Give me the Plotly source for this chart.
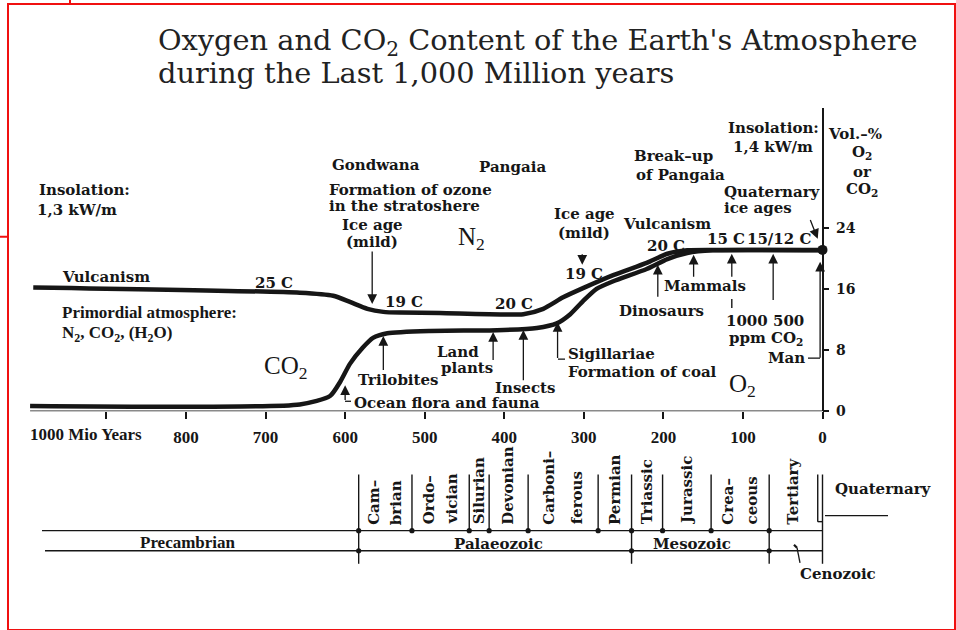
import plotly.graph_objects as go

W, H = 956, 630          # reference picture size (all positions below are in its pixels)
HF = 640                 # figure height: the page is photographed ~640 px tall and scaled to 630
S = HF / H
INK = "#161616"
RED = "#f01010"

# ---------------- data ----------------
# upper curve (Vol.-%), age in million years before present
upper_age = [992, 657, 615, 594, 572, 552, 531, 481, 376, 351, 326, 301, 263, 221, 195, 170, 138, 0]
upper_vol = [16.2, 15.5, 15.1, 14.3, 13.4, 13.0, 12.9, 12.85, 12.7, 13.4, 14.9, 16.1, 17.8, 19.4, 20.6, 21.05, 21.1, 21.1]
# lower curve (Vol.-%)
lower_age = [996, 657, 619, 606, 594, 578, 565, 547, 493, 409, 359, 334, 317, 301, 284, 263, 221, 195, 170, 138, 0]
lower_vol = [0.7, 0.9, 2.0, 3.9, 6.2, 8.3, 9.6, 10.2, 10.5, 10.6, 10.9, 11.5, 12.7, 14.4, 16.0, 17.0, 18.6, 19.9, 20.7, 21.05, 21.05]

xtick_vals = [900, 800, 700, 600, 500, 400, 300, 200, 100, 0]
xtick_text = ["", "800", "700", "600", "500", "400", "300", "200", "100", "0"]
ytick_vals = [0, 8, 16, 24]

# events marked by arrows (age in Ma)
event_names = ["Ice age (mild) I", "Ocean flora and fauna", "Trilobites", "Land plants", "Insects",
               "Sigillariae", "Ice age (mild) II", "Dinosaurs", "Mammals", "1000 ppm CO2",
               "500 ppm CO2", "Man", "Quaternary ice ages"]
event_age = [566, 600, 552, 414, 376, 333, 302, 207, 162, 114, 62, 3, 6]

# geological periods (start, Ma)
period_names = ["Cambrian", "Ordovician", "Silurian", "Devonian", "Carboniferous", "Permian",
                "Triassic", "Jurassic", "Cretaceous", "Tertiary", "Quaternary"]
period_start = [583, 516, 444, 419, 370, 282, 240, 201, 140, 67, 6]
period_cols = [["Cam–", "brian"], ["Ordo–", "vician"], ["Silurian"], ["Devonian"],
               ["Carboni–", "ferous"], ["Permian"], ["Triassic"], ["Jurassic"],
               ["Crea–", "ceous"], ["Tertiary"]]
era_names = ["Precambrian", "Palaeozoic", "Mesozoic", "Cenozoic"]
era_first_period = ["Cambrian", "Triassic", "Tertiary"]

# ---------------- geometry of the page ----------------
X0_PX, PX_PER_MA = 822.5, 0.7956
Y0_PX, PX_PER_PCT, YTOP_PX = 410.0, 7.625, 108.0


def pct(ypx):
    return (Y0_PX - ypx) / PX_PER_PCT


def px_x(x):
    return x / W


def px_y(y):
    return 1 - y / H


SLAB = dict(family="DejaVu Serif", size=15, color=INK, weight="bold")
SERIFB = dict(family="Liberation Serif", size=17, color=INK, weight="bold")
BIG = dict(family="Liberation Serif", size=25, color=INK)
TITLE = dict(family="DejaVu Serif", size=28.8, color="#222222")

fig = go.Figure()
fig.add_trace(go.Scatter(x=upper_age, y=upper_vol, mode="lines",
                         line=dict(color=INK, width=4.5, shape="spline", smoothing=0.6),
                         hoverinfo="skip"))
fig.add_trace(go.Scatter(x=lower_age, y=lower_vol, mode="lines",
                         line=dict(color=INK, width=4.5, shape="spline", smoothing=0.6),
                         hoverinfo="skip"))
fig.add_trace(go.Scatter(x=[upper_age[-1]], y=[upper_vol[-1]], mode="markers",
                         marker=dict(color=INK, size=10), hoverinfo="skip"))

fig.update_layout(
    width=W, height=HF, autosize=False, showlegend=False,
    margin=dict(l=0, r=0, t=0, b=0, pad=0),
    paper_bgcolor="white", plot_bgcolor="white",
    xaxis=dict(domain=[0, 1], range=[X0_PX / PX_PER_MA, (X0_PX - W) / PX_PER_MA],
               anchor="free", position=1 - Y0_PX / H, showline=False, showgrid=False,
               zeroline=False, ticks="outside", ticklen=7 * S, tickwidth=1.5, tickcolor=INK,
               tickvals=xtick_vals, ticktext=xtick_text, tickfont=SERIFB,
               ticklabelstandoff=3),
    yaxis=dict(domain=[1 - Y0_PX / H, 1 - YTOP_PX / H],
               range=[0, (Y0_PX - YTOP_PX) / PX_PER_PCT],
               anchor="free", position=X0_PX / W, side="right", showline=True,
               linecolor=INK, linewidth=1.5, showgrid=False, zeroline=False,
               ticks="outside", ticklen=6, tickwidth=1.5, tickcolor=INK,
               tickvals=ytick_vals, tickfont=dict(family="DejaVu Serif", size=14, color=INK, weight="bold"),
               ticklabelstandoff=4),
)

shapes = []


def line_paper(x0, y0, x1, y1, color=INK, width=1.3):
    shapes.append(dict(type="line", xref="paper", yref="paper", x0=px_x(x0), y0=px_y(y0),
                       x1=px_x(x1), y1=px_y(y1), line=dict(color=color, width=width)))


def vline_age(age, y0, y1, width=1.4):
    shapes.append(dict(type="line", xref="x", yref="paper", x0=age, x1=age,
                       y0=px_y(y0), y1=px_y(y1), line=dict(color=INK, width=width)))


def dot_age(age, y, r=2.6):
    shapes.append(dict(type="circle", xref="x", yref="paper", xsizemode="pixel", ysizemode="pixel",
                       xanchor=age, yanchor=px_y(y), x0=-r, x1=r, y0=-r, y1=r,
                       fillcolor=INK, line=dict(color=INK, width=0)))


# baseline of the age axis
shapes.append(dict(type="line", xref="x", yref="y", x0=max(lower_age), x1=0, y0=0, y1=0,
                   line=dict(color=INK, width=1.5)))

# ---------------- geological table ----------------
ROW1, ROW2, TOP, ERA_BOT = 529, 549, 473, 562
line_paper(42, ROW1, X0_PX, ROW1)
line_paper(45, ROW2, X0_PX, ROW2)
start_of = dict(zip(period_names, period_start))
for name, age in zip(period_names, period_start):
    if name == "Quaternary":
        continue
    if name in era_first_period:
        vline_age(age, TOP, ERA_BOT)
        dot_age(age, ROW1)
        dot_age(age, ROW2)
    else:
        vline_age(age, TOP, ROW1)
        dot_age(age, ROW1)
# Quaternary and present
q = start_of["Quaternary"]
vline_age(q, TOP, 520)
shapes.append(dict(type="line", xref="x", yref="paper", x0=q, x1=0, y0=px_y(520), y1=px_y(520),
                   line=dict(color=INK, width=1.4)))
vline_age(0, TOP, ERA_BOT)
line_paper(825, 514, 888, 514)
# Cenozoic pointer
line_paper(797, 546, 800, 561)
line_paper(794, 543, 797, 546, width=2.2)

# period labels, rotated
for i, cols in enumerate(period_cols):
    a0, a1 = period_start[i], period_start[i + 1]
    fr = [0.5] if len(cols) == 1 else [0.3, 0.7]
    for f, t in zip(fr, cols):
        fig.add_annotation(text=t, x=a0 + (a1 - a0) * f, y=px_y(525), xref="x", yref="paper",
                           textangle=-90, showarrow=False, xanchor="center", yanchor="bottom",
                           font=SLAB)


def txt(text, x, y, font=SLAB, xanchor="left", yanchor="middle"):
    fig.add_annotation(text=text, x=px_x(x), y=px_y(y), xref="paper", yref="paper",
                       showarrow=False, xanchor=xanchor, yanchor=yanchor, font=font)


txt(era_names[0], 138, 541, SERIFB)
txt(era_names[1], 452, 542)
txt(era_names[2], 651, 542)
txt(era_names[3], 798, 572)
txt("Quaternary", 833, 487)

# ---------------- event arrows ----------------
ev = dict(zip(event_names, event_age))


def arrow(name, tip_px, tail_px, dx=0):
    fig.add_annotation(x=ev[name], y=pct(tip_px), xref="x", yref="y", text="",
                       ax=dx, ay=(tail_px - tip_px) * S, showarrow=True, arrowhead=2,
                       arrowsize=1.5, arrowwidth=1.3, arrowcolor=INK)


arrow("Ice age (mild) I", 303, 250)
arrow("Ocean flora and fauna", 384, 400)
arrow("Trilobites", 335, 370)
arrow("Land plants", 331, 360)
arrow("Insects", 329, 380)
arrow("Sigillariae", 321, 358)
arrow("Ice age (mild) II", 264, 252)
arrow("Dinosaurs", 264, 297)
arrow("Mammals", 254, 277)
arrow("1000 ppm CO2", 253, 277)
arrow("500 ppm CO2", 253, 300)
arrow("Man", 261, 357)
arrow("Quaternary ice ages", 238, 218, dx=-8)
# connectors
line_paper(345, 400, 351, 400)
line_paper(558, 358, 565, 358)
line_paper(808, 357, 820, 357)
vline_age(ev["1000 ppm CO2"], 298, 307)

# ---------------- texts ----------------
txt("Oxygen and CO<sub>2</sub> Content of the Earth's Atmosphere", 156, 42, TITLE)
txt("during the Last 1,000 Million years", 156, 73, TITLE)

txt("Insolation:", 37, 189)
txt("1,3 kW/m", 35, 209)
txt("Vulcanism", 60, 276)
txt("25 C", 253, 282)
txt("19 C", 383, 301)
txt("Primordial atmosphere:", 60, 312, SERIFB)
txt("N<sub>2</sub>, CO<sub>2</sub>, (H<sub>2</sub>O)", 60, 333, SERIFB)
txt("CO<sub>2</sub>", 262, 366, BIG)
txt("N<sub>2</sub>", 456, 238, BIG)
txt("O<sub>2</sub>", 727, 384, BIG)

txt("Gondwana", 330, 164)
txt("Pangaia", 477, 166)
txt("Formation of ozone", 327, 189)
txt("in the stratoshere", 327, 205)
txt("Ice age", 372, 224, xanchor="center")
txt("(mild)", 372, 241, xanchor="center")
txt("Ice age", 584, 213, xanchor="center")
txt("(mild)", 584, 232, xanchor="center")
txt("19 C", 584, 273, xanchor="center")
txt("20 C", 493, 303)
txt("Trilobites", 356, 379)
txt("Ocean flora and fauna", 352, 402)
txt("Land", 481, 351, xanchor="right")
txt("plants", 439, 367)
txt("Insects", 525, 387, xanchor="center")
txt("Sigillariae", 566, 353)
txt("Formation of coal", 566, 371)
txt("Dinosaurs", 617, 310)
txt("Mammals", 662, 285)
txt("1000 500", 724, 320)
txt("ppm CO<sub>2</sub>", 727, 337)
txt("Man", 766, 357)
txt("Vulcanism", 621, 223)
txt("20 C", 645, 245)
txt("15 C", 705, 238)
txt("15/12 C", 745, 238)
txt("Break–up", 632, 156)
txt("of Pangaia", 634, 174)
txt("Quaternary", 722, 191)
txt("ice ages", 722, 207)
txt("Insolation:", 726, 128)
txt("1,4 kW/m", 731, 147)
txt("Vol.–%", 826, 134)
txt("O<sub>2</sub>", 862, 152, xanchor="center")
txt("or", 862, 171, xanchor="center")
txt("CO<sub>2</sub>", 862, 189, xanchor="center")
txt("1000 Mio Years", 28, 433, SERIFB)

# red frame of the scan
shapes.append(dict(type="rect", xref="paper", yref="paper", x0=px_x(8), y0=px_y(628),
                   x1=px_x(955), y1=px_y(4), line=dict(color=RED, width=2)))
line_paper(70, 0, 70, 4, RED, 2)
line_paper(0, 236, 8, 236, RED, 2)

fig.update_layout(shapes=shapes)

PAGE_FIX = (
    "var d=document.documentElement,b=document.body;"
    "d.style.margin='0';d.style.padding='0';d.style.overflow='hidden';"
    "b.style.margin='0';b.style.padding='0';b.style.overflow='hidden';"
)
fig.write_html("out.html", config={"displayModeBar": False}, post_script=PAGE_FIX)
